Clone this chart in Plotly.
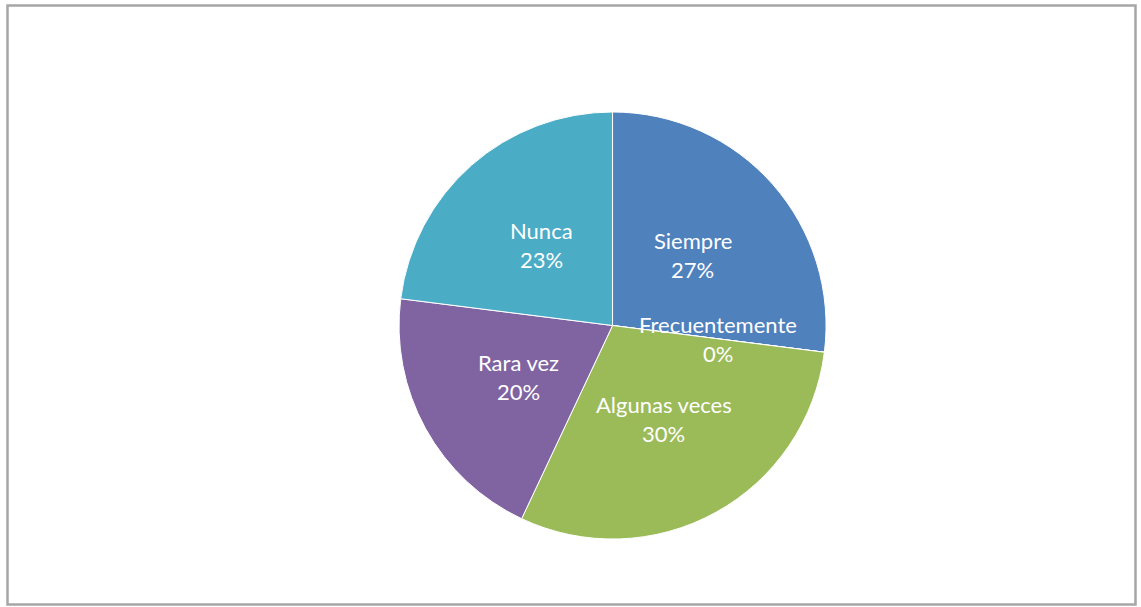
import math
import plotly.graph_objects as go

# Survey response shares (percent)
categories = ["Siempre", "Frecuentemente", "Algunas veces", "Rara vez", "Nunca"]
values = [27, 0, 30, 20, 23]
colors = ["#4F81BD", "#C0504D", "#9BBB59", "#8064A2", "#4BACC6"]

W, H = 1141, 607
dom_x = [0.3497, 0.7240]
dom_y = [0.1120, 0.8155]

fig = go.Figure(
    go.Pie(
        labels=categories,
        values=values,
        sort=False,
        direction="clockwise",
        rotation=0,
        marker=dict(colors=colors, line=dict(color="white", width=1)),
        textinfo="none",
        hoverinfo="label+percent",
        domain=dict(x=dom_x, y=dom_y),
        showlegend=False,
    )
)

# Data labels placed halfway out along each slice's mid-angle
cx = (dom_x[0] + dom_x[1]) / 2 * W
cy = (1 - (dom_y[0] + dom_y[1]) / 2) * H
radius = min((dom_x[1] - dom_x[0]) * W, (dom_y[1] - dom_y[0]) * H) / 2
total = sum(values)
cum = 0
annotations = []
for name, v in zip(categories, values):
    mid = (cum + v / 2) / total * 2 * math.pi
    cum += v
    px = cx + 0.5 * radius * math.sin(mid)
    py = cy - 0.5 * radius * math.cos(mid)
    xp, yp = px / W, 1 - py / H
    for text, shift in ((name, 14.5), (f"{v}%", -14.5)):
        annotations.append(dict(
            x=xp, y=yp, xref="paper", yref="paper", text=text,
            showarrow=False, yshift=shift, xanchor="center", yanchor="middle",
            font=dict(family="Lato, Open Sans, sans-serif", size=22, color="white"),
        ))

fig.update_layout(
    width=W, height=H,
    margin=dict(l=0, r=0, t=0, b=0),
    paper_bgcolor="white",
    plot_bgcolor="white",
    annotations=annotations,
    shapes=[dict(
        type="rect", xref="paper", yref="paper",
        x0=7.5 / W, x1=1135.5 / W, y0=1 - 604.5 / H, y1=1 - 5.5 / H,
        line=dict(color="#A6A6A6", width=2.5), fillcolor="rgba(0,0,0,0)",
    )],
)

fig.write_html("out.html")
